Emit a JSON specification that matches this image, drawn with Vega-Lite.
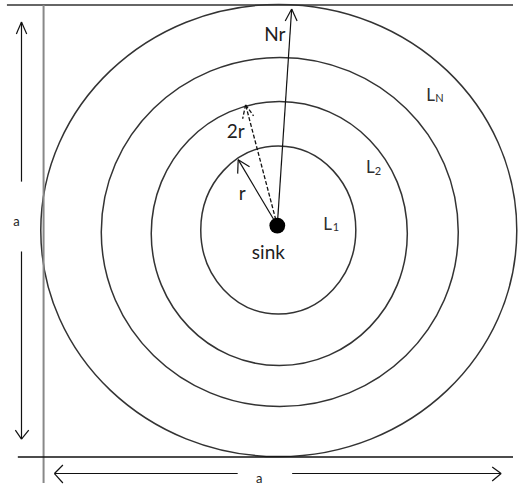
{
  "$schema": "https://vega.github.io/schema/vega-lite/v6.json",
  "width": 518,
  "height": 486,
  "autosize": {"type": "fit", "contains": "padding"},
  "padding": 0,
  "background": "white",
  "config": {"view": {"stroke": null}},
  "encoding": {
    "x": {"field": "x", "type": "quantitative", "scale": {"domain": [0, 518], "nice": false, "zero": false}, "axis": null},
    "y": {"field": "y", "type": "quantitative", "scale": {"domain": [0, 486], "nice": false, "zero": false, "reverse": true}, "axis": null}
  },
  "layer": [
    {
      "data": {"values": [
        {"ring": "L_N outer", "x": 281.5, "y": 231, "r": 238},
        {"ring": "L_3", "x": 282.5, "y": 232.5, "r": 178.5},
        {"ring": "L_2", "x": 282, "y": 234, "r": 132},
        {"ring": "L_1", "x": 281, "y": 230.5, "r": 84}
      ]},
      "mark": {"type": "point", "filled": false, "stroke": "#333333", "strokeWidth": 1.5, "opacity": 1},
      "encoding": {
        "size": {"field": "r", "type": "quantitative", "legend": null, "scale": {"type": "pow", "exponent": 2, "domain": [0, 250], "range": [0, 250000]}},
        "shape": {"field": "ring", "type": "nominal", "legend": null, "scale": {
          "domain": ["L_N outer", "L_3", "L_2", "L_1"],
          "range": [
            "M-1,0A1,0.95,0,1,1,1,0A1,0.95,0,1,1,-1,0Z",
            "M-1,0A1,0.978,0,1,1,1,0A1,0.978,0,1,1,-1,0Z",
            "M0,-1A0.97,1,0,1,1,0,1A0.97,1,0,1,1,0,-1Z",
            "M0,-1A0.923,1,0,1,1,0,1A0.923,1,0,1,1,0,-1Z"
          ]
        }}
      }
    },
    {
      "data": {"values": [{"part": "top", "x": 7, "y": 5, "x2": 518, "y2": 5}]},
      "mark": {"type": "rule", "color": "#333333", "strokeWidth": 1.5},
      "encoding": {"x2": {"field": "x2"}, "y2": {"field": "y2"}}
    },
    {
      "data": {"values": [{"part": "left", "x": 44, "y": 5, "x2": 44, "y2": 484}]},
      "mark": {"type": "rule", "color": "#888888", "strokeWidth": 2},
      "encoding": {"x2": {"field": "x2"}, "y2": {"field": "y2"}}
    },
    {
      "data": {"values": [{"part": "bottom", "x": 18, "y": 458, "x2": 518, "y2": 458}]},
      "mark": {"type": "rule", "color": "#111111", "strokeWidth": 1.5},
      "encoding": {"x2": {"field": "x2"}, "y2": {"field": "y2"}}
    },
    {
      "data": {"values": [
        {"part": "dim-v", "x": 21.7, "y": 22, "x2": 21.7, "y2": 182},
        {"part": "dim-v", "x": 21.7, "y": 252, "x2": 21.7, "y2": 440},
        {"part": "dim-v-head", "x": 21.7, "y": 22, "x2": 16.5, "y2": 34},
        {"part": "dim-v-head", "x": 21.7, "y": 22, "x2": 27, "y2": 34},
        {"part": "dim-v-head", "x": 21.7, "y": 440, "x2": 15.5, "y2": 431},
        {"part": "dim-v-head", "x": 21.7, "y": 440, "x2": 29, "y2": 431},
        {"part": "dim-h", "x": 55, "y": 474.5, "x2": 240, "y2": 474.5},
        {"part": "dim-h", "x": 295, "y": 474.5, "x2": 506, "y2": 474.5},
        {"part": "dim-h-head", "x": 55, "y": 474.5, "x2": 63.5, "y2": 466},
        {"part": "dim-h-head", "x": 55, "y": 474.5, "x2": 63.5, "y2": 484},
        {"part": "dim-h-head", "x": 506, "y": 474.5, "x2": 497, "y2": 468},
        {"part": "dim-h-head", "x": 506, "y": 474.5, "x2": 497, "y2": 482},
        {"part": "r", "x": 280, "y": 226, "x2": 240.5, "y2": 160},
        {"part": "r-head", "x": 240.5, "y": 160, "x2": 240, "y2": 174},
        {"part": "r-head", "x": 240.5, "y": 160, "x2": 252, "y2": 167},
        {"part": "Nr", "x": 280, "y": 226, "x2": 294.5, "y2": 9},
        {"part": "Nr-head", "x": 294.5, "y": 9, "x2": 288, "y2": 21},
        {"part": "Nr-head", "x": 294.5, "y": 9, "x2": 300, "y2": 21}
      ]},
      "mark": {"type": "rule", "color": "#111111", "strokeWidth": 1.2},
      "encoding": {"x2": {"field": "x2"}, "y2": {"field": "y2"}}
    },
    {
      "data": {"values": [
        {"part": "2r", "x": 280, "y": 226, "x2": 248, "y2": 105},
        {"part": "2r-head", "x": 248, "y": 105, "x2": 245, "y2": 119},
        {"part": "2r-head", "x": 248, "y": 105, "x2": 256, "y2": 116}
      ]},
      "mark": {"type": "rule", "color": "#111111", "strokeWidth": 1.3, "strokeDash": [4, 2]},
      "encoding": {"x2": {"field": "x2"}, "y2": {"field": "y2"}}
    },
    {
      "data": {"values": [{"label": "sink", "x": 280, "y": 226}]},
      "mark": {"type": "point", "shape": "circle", "filled": true, "color": "#000000", "size": 250, "opacity": 1}
    },
    {
      "data": {"values": [
        {"label": "Nr", "x": 277.5, "y": 41.5},
        {"label": "2r", "x": 238, "y": 138},
        {"label": "r", "x": 244.5, "y": 200},
        {"label": "sink", "x": 271, "y": 260}
      ]},
      "mark": {"type": "text", "font": "Lato", "fontSize": 19, "color": "#1e1e1e", "align": "center", "baseline": "alphabetic"},
      "encoding": {"text": {"field": "label"}}
    },
    {
      "data": {"values": [
        {"label": "L", "x": 326.5, "y": 230},
        {"label": "L", "x": 369.5, "y": 173},
        {"label": "L", "x": 430.5, "y": 101.5}
      ]},
      "mark": {"type": "text", "font": "Lato", "fontSize": 17, "color": "#2e2e2e", "align": "left", "baseline": "alphabetic"},
      "encoding": {"text": {"field": "label"}}
    },
    {
      "data": {"values": [
        {"label": "1", "x": 336, "y": 231.5},
        {"label": "2", "x": 378.5, "y": 175},
        {"label": "N", "x": 439.5, "y": 102.5}
      ]},
      "mark": {"type": "text", "font": "Lato", "fontSize": 11, "color": "#2e2e2e", "align": "left", "baseline": "alphabetic"},
      "encoding": {"text": {"field": "label"}}
    },
    {
      "data": {"values": [
        {"label": "a", "x": 16.7, "y": 226.5},
        {"label": "a", "x": 261.7, "y": 484}
      ]},
      "mark": {"type": "text", "font": "Lato", "fontSize": 13, "color": "#1e1e1e", "align": "center", "baseline": "alphabetic"},
      "encoding": {"text": {"field": "label"}}
    }
  ]
}
